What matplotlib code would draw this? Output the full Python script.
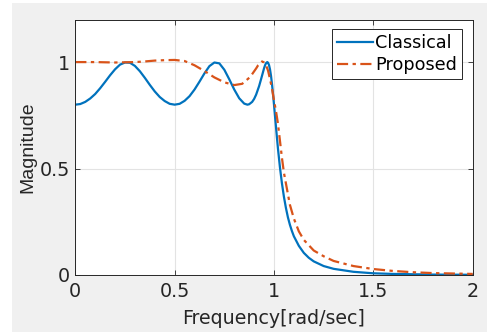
import matplotlib.pyplot as plt
from matplotlib.patches import Rectangle

# --- values
freq_classical = [0.0, 0.025, 0.05, 0.075, 0.1, 0.125, 0.15, 0.175, 0.2, 0.225,
                  0.25, 0.275, 0.3, 0.325, 0.35, 0.375, 0.4, 0.425, 0.45, 0.475,
                  0.5, 0.525, 0.55, 0.575, 0.6, 0.625, 0.65, 0.675, 0.7, 0.725,
                  0.75, 0.775, 0.8, 0.825, 0.85, 0.866, 0.875, 0.89, 0.9, 0.91,
                  0.925, 0.935, 0.94, 0.95, 0.955, 0.96, 0.966, 0.97, 0.975, 0.98,
                  0.985, 0.99, 0.995, 1.0, 1.005, 1.01, 1.015, 1.02, 1.03, 1.04,
                  1.05, 1.06, 1.07, 1.08, 1.09, 1.1, 1.125, 1.15, 1.175, 1.2,
                  1.25, 1.3, 1.4, 1.5, 1.6, 1.8, 2.0]
mag_classical = [0.800, 0.803, 0.813, 0.829, 0.850, 0.877, 0.907, 0.938, 0.966, 0.988,
                 0.998, 0.997, 0.982, 0.957, 0.926, 0.893, 0.862, 0.836, 0.817, 0.804,
                 0.800, 0.804, 0.818, 0.840, 0.871, 0.908, 0.947, 0.981, 0.998, 0.994,
                 0.964, 0.919, 0.871, 0.830, 0.805, 0.800, 0.802, 0.813, 0.827, 0.847,
                 0.887, 0.920, 0.937, 0.971, 0.985, 0.995, 1.000, 0.997, 0.986, 0.965,
                 0.935, 0.896, 0.850, 0.800, 0.747, 0.695, 0.643, 0.593, 0.505, 0.430,
                 0.367, 0.315, 0.271, 0.236, 0.207, 0.182, 0.137, 0.104, 0.081, 0.064,
                 0.042, 0.029, 0.015, 0.008, 0.005, 0.002, 0.001]

freq_proposed = [0.0, 0.1, 0.2, 0.3, 0.35, 0.4, 0.45, 0.5, 0.55, 0.6,
                 0.65, 0.7, 0.75, 0.8, 0.84, 0.88, 0.91, 0.92, 0.94, 0.95,
                 0.96, 0.97, 0.98, 0.99, 1.0, 1.01, 1.02, 1.03, 1.04, 1.05,
                 1.06, 1.08, 1.1, 1.125, 1.15, 1.2, 1.25, 1.3, 1.4, 1.5,
                 1.6, 1.7, 1.8, 1.9, 2.0]
mag_proposed = [1.000, 1.000, 0.998, 1.000, 1.003, 1.007, 1.009, 1.010, 1.005, 0.985,
                0.958, 0.928, 0.905, 0.892, 0.898, 0.930, 0.970, 0.985, 1.003, 0.998,
                0.985, 0.960, 0.920, 0.875, 0.820, 0.770, 0.710, 0.630, 0.550, 0.480,
                0.430, 0.330, 0.265, 0.205, 0.165, 0.115, 0.088, 0.066, 0.042, 0.028,
                0.019, 0.013, 0.009, 0.007, 0.005]

# ---
plt.rcParams['font.family'] = 'DejaVu Sans'
fig = plt.figure(figsize=(4.87, 3.32), dpi=100, facecolor='#f0f0f0')
fig.patches.append(Rectangle((0, 0), 12 / 487, 1, transform=fig.transFigure,
                             facecolor='white', edgecolor='none', zorder=-1))
fig.patches.append(Rectangle((0, 1 - 3 / 332), 1, 3 / 332, transform=fig.transFigure,
                             facecolor='white', edgecolor='none', zorder=-1))
ax = fig.add_axes([75.3 / 487, 57 / 332, 397.4 / 487, 255.5 / 332])

ax.plot(freq_classical, mag_classical, color='#0072BD', lw=1.6, label='Classical')
ax.plot(freq_proposed, mag_proposed, color='#D95319', lw=1.6,
        linestyle=(0, (5, 2, 1.5, 2)), label='Proposed')

ax.set_xlim(0, 2)
ax.set_ylim(0, 1.2)
ax.set_xticks([0, 0.5, 1, 1.5, 2])
ax.set_xticklabels(['0', '0.5', '1', '1.5', '2'])
ax.set_yticks([0, 0.5, 1])
ax.set_yticklabels(['0', '0.5', '1'])
ax.grid(True, color='#e3e3e3', lw=0.8)
ax.set_axisbelow(True)

ax.tick_params(direction='in', top=True, right=True, length=3.5, width=0.6,
               colors='#262626', labelsize=13.8)
ax.tick_params(axis='x', pad=5)
ax.tick_params(axis='y', pad=4)
for s in ax.spines.values():
    s.set_color('#262626')
    s.set_linewidth(0.7)

ax.set_xlabel('Frequency[rad/sec]', fontsize=13.7, color='#262626', va='top')
ax.xaxis.set_label_coords(0.5, -0.135)
ax.set_ylabel('Magnitude', fontsize=14, color='#262626', family='Liberation Sans')
ax.yaxis.set_label_coords(-0.099, 0.5)

leg = ax.legend(loc='upper right', bbox_to_anchor=(0.973, 0.963), borderaxespad=0,
                fontsize=12.7, handlelength=2.05, handletextpad=0.1,
                labelspacing=0.2, borderpad=0.3, fancybox=False, framealpha=1,
                edgecolor='#262626')
leg.get_frame().set_linewidth(0.7)

plt.savefig('out.png', dpi=100, facecolor=fig.get_facecolor())
